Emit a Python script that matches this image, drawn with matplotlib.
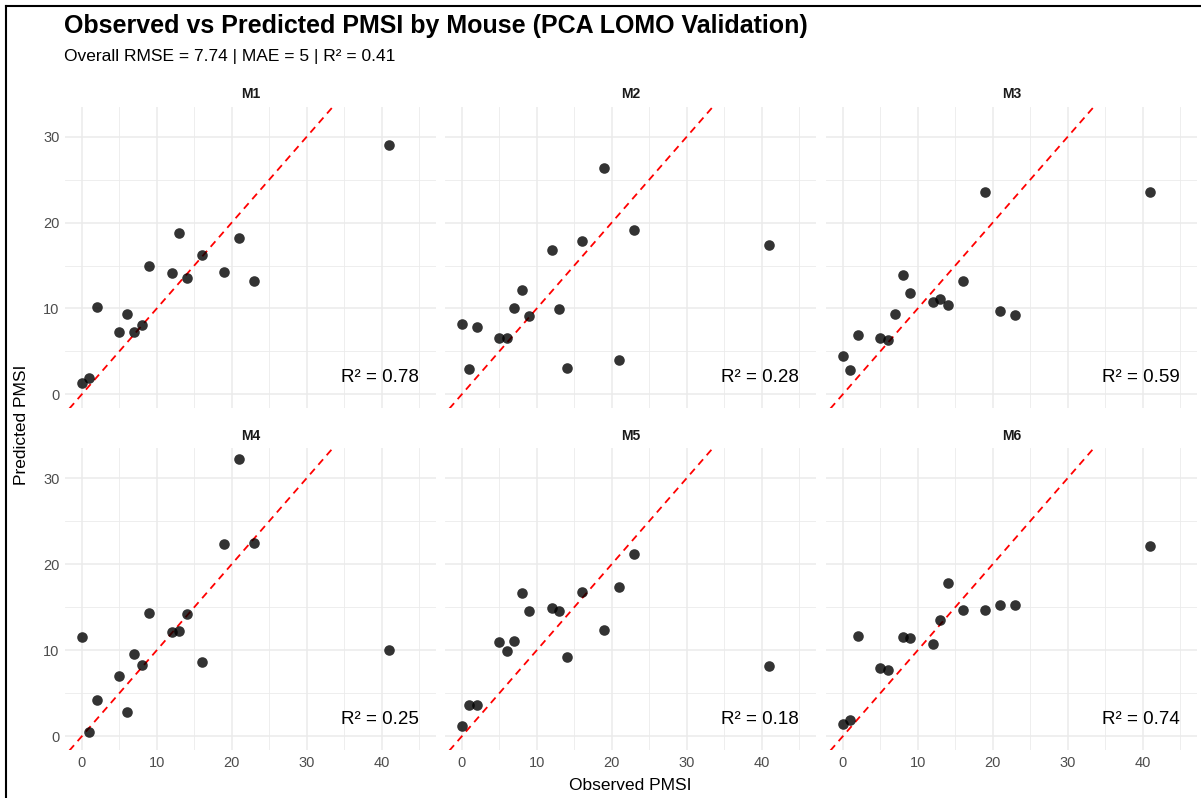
import matplotlib
matplotlib.use("Agg")
import matplotlib.pyplot as plt
from matplotlib.lines import Line2D

plt.rcParams['font.family'] = ['Liberation Sans', 'DejaVu Sans']

# observed PMSI (same design for each mouse, M6 has one fewer)
obs = [0, 1, 2, 5, 6, 7, 8, 9, 12, 13, 14, 16, 19, 21, 23, 41]
obs_m6 = [0, 1, 2, 5, 6, 8, 9, 12, 13, 14, 16, 19, 21, 23, 41]

pred_m1 = [1.3, 1.9, 10.2, 7.2, 9.4, 7.2, 8.1, 14.9, 14.1, 18.8, 13.5, 16.2, 14.2, 18.2, 13.2, 29.0]
pred_m2 = [8.2, 3.0, 7.8, 6.5, 6.5, 10.0, 12.2, 9.1, 16.8, 9.9, 3.1, 17.8, 26.4, 4.0, 19.1, 17.4]
pred_m3 = [4.5, 2.8, 6.9, 6.6, 6.3, 9.4, 13.9, 11.8, 10.8, 11.1, 10.4, 13.2, 23.6, 9.7, 9.2, 23.6]
pred_m4 = [11.5, 0.5, 4.2, 7.0, 2.8, 9.5, 8.3, 14.3, 12.1, 12.2, 14.2, 8.6, 22.3, 32.2, 22.5, 10.0]
pred_m5 = [1.2, 3.6, 3.6, 11.0, 9.9, 11.1, 16.6, 14.5, 14.9, 14.6, 9.2, 16.8, 12.4, 17.4, 21.2, 8.2]
pred_m6 = [1.4, 1.9, 11.6, 7.9, 7.7, 11.5, 11.4, 10.7, 13.5, 17.8, 14.7, 14.7, 15.3, 15.3, 22.1]

mice = ['M1', 'M2', 'M3', 'M4', 'M5', 'M6']
r2_vals = ['0.78', '0.28', '0.59', '0.25', '0.18', '0.74']

xs = [obs, obs, obs, obs, obs, obs_m6]
ys = [pred_m1, pred_m2, pred_m3, pred_m4, pred_m5, pred_m6]

W, H = 1201, 798
fig = plt.figure(figsize=(W / 100, H / 100), dpi=100)

col_left = [65, 445, 826]
col_w = 371
row_top = [106.7, 448]
row_h = [301.3, 302]

grid_c = '#EBEBEB'
tick_c = '#4D4D4D'

for i, m in enumerate(mice):
    r, c = divmod(i, 3)
    ax = fig.add_axes([col_left[c] / W, 1 - (row_top[r] + row_h[r]) / H,
                       col_w / W, row_h[r] / H])
    ax.set_xlim(-2.25, 47.25)
    ax.set_ylim(-1.6, 33.5)
    ax.set_xticks([0, 10, 20, 30, 40])
    ax.set_yticks([0, 10, 20, 30])
    ax.set_xticks([5, 15, 25, 35, 45], minor=True)
    ax.set_yticks([5, 15, 25], minor=True)
    ax.grid(True, which='major', color=grid_c, lw=1.1)
    ax.grid(True, which='minor', color=grid_c, lw=0.6)
    ax.set_axisbelow(True)
    for s in ax.spines.values():
        s.set_visible(False)
    ax.tick_params(which='both', length=0, labelsize=10.5, labelcolor=tick_c, pad=4)
    if c != 0:
        ax.tick_params(labelleft=False)
    if r != 1:
        ax.tick_params(labelbottom=False)

    ax.plot([-5, 50], [-5, 50], color='red', ls=(0, (4, 3)), lw=1.3, zorder=2)
    ax.scatter(xs[i], ys[i], s=58, color='black', alpha=0.8, lw=0, zorder=3)
    ax.text(45, 2, 'R² = ' + r2_vals[i], ha='right', va='center', fontsize=13.5, color='black')
    ax.set_title(m, fontsize=10, fontweight='bold', color='#1A1A1A', pad=6)

fig.text(64 / W, 1 - 26 / H, 'Observed vs Predicted PMSI by Mouse (PCA LOMO Validation)',
         fontsize=18, fontweight='bold', ha='left', va='center')
fig.text(64 / W, 1 - 57 / H, 'Overall RMSE = 7.74 | MAE = 5 | R² = 0.41',
         fontsize=12.5, ha='left', va='center')
fig.text(630 / W, 1 - 785 / H, 'Observed PMSI', fontsize=12.5, ha='center', va='center')
fig.text(22 / W, 1 - 425 / H, 'Predicted PMSI', fontsize=12.5, ha='center', va='center',
         rotation=90)

# frame on left and top
fig.add_artist(Line2D([6 / W, 6 / W], [0, 1 - 6 / H], transform=fig.transFigure,
                      color='black', lw=1.5))
fig.add_artist(Line2D([6 / W, 1], [1 - 6 / H, 1 - 6 / H], transform=fig.transFigure,
                      color='black', lw=1.5))

fig.savefig('out.png', dpi=100)
